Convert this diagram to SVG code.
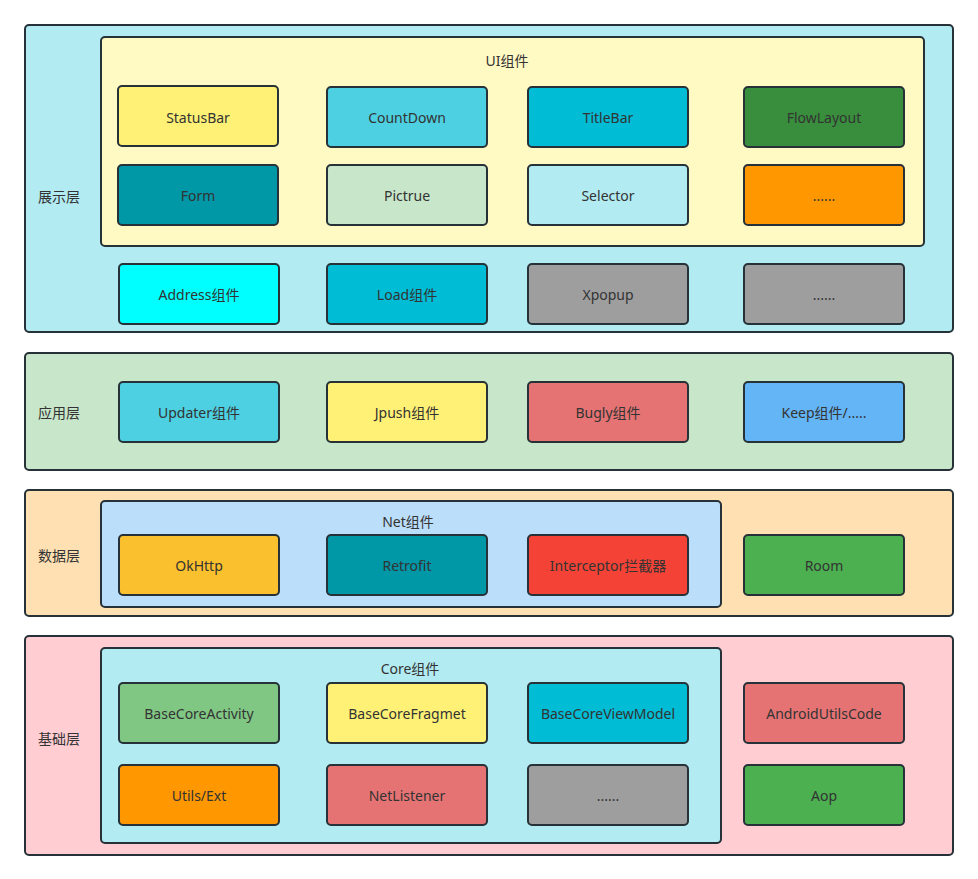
<svg xmlns="http://www.w3.org/2000/svg" width="978" height="879" viewBox="0 0 978 879">
<style>
.l,.b{stroke:#263238;stroke-width:2;rx:4px;ry:4px}
text{font-family:"Noto Sans","Noto Sans CJK SC",sans-serif;font-size:14px;fill:#333;text-anchor:middle;dominant-baseline:central}
</style>
<rect width="978" height="879" fill="#fff"/>
<g id="layer-display">
<rect class="l" x="25" y="25" width="928" height="307" fill="#b2ebf2"/>
<text x="59" y="196">展示层</text>
</g>
<g id="ui-group">
<rect class="l" x="101" y="37" width="823" height="209" fill="#fff9c4"/>
<text x="507" y="60">UI组件</text>
</g>
<g id="statusbar"><rect class="b" x="118" y="86" width="160" height="60" fill="#fff176"/><text x="198" y="117">StatusBar</text></g>
<g id="countdown"><rect class="b" x="327" y="87" width="160" height="60" fill="#4dd0e1"/><text x="407" y="117">CountDown</text></g>
<g id="titlebar"><rect class="b" x="528" y="87" width="160" height="60" fill="#00bcd4"/><text x="608" y="117">TitleBar</text></g>
<g id="flowlayout"><rect class="b" x="744" y="87" width="160" height="60" fill="#388e3c"/><text x="824" y="117">FlowLayout</text></g>
<g id="form"><rect class="b" x="118" y="165" width="160" height="60" fill="#0097a7"/><text x="198" y="195">Form</text></g>
<g id="pictrue"><rect class="b" x="327" y="165" width="160" height="60" fill="#c8e6c9"/><text x="407" y="195">Pictrue</text></g>
<g id="selector"><rect class="b" x="528" y="165" width="160" height="60" fill="#b2ebf2"/><text x="608" y="195">Selector</text></g>
<g id="ui-more"><rect class="b" x="744" y="165" width="160" height="60" fill="#ff9800"/><text x="824" y="195">......</text></g>
<g id="address"><rect class="b" x="119" y="264" width="160" height="60" fill="#00ffff"/><text x="199" y="294">Address组件</text></g>
<g id="load"><rect class="b" x="327" y="264" width="160" height="60" fill="#00bcd4"/><text x="407" y="294">Load组件</text></g>
<g id="xpopup"><rect class="b" x="528" y="264" width="160" height="60" fill="#9e9e9e"/><text x="608" y="294">Xpopup</text></g>
<g id="display-more"><rect class="b" x="744" y="264" width="160" height="60" fill="#9e9e9e"/><text x="824" y="294">......</text></g>

<g id="layer-app">
<rect class="l" x="25" y="353" width="928" height="117" fill="#c8e6c9"/>
<text x="59" y="412">应用层</text>
</g>
<g id="updater"><rect class="b" x="119" y="382" width="160" height="60" fill="#4dd0e1"/><text x="199" y="412">Updater组件</text></g>
<g id="jpush"><rect class="b" x="327" y="382" width="160" height="60" fill="#fff176"/><text x="407" y="412">Jpush组件</text></g>
<g id="bugly"><rect class="b" x="528" y="382" width="160" height="60" fill="#e57373"/><text x="608" y="412">Bugly组件</text></g>
<g id="keep"><rect class="b" x="744" y="382" width="160" height="60" fill="#64b5f6"/><text x="824" y="412">Keep组件/.....</text></g>

<g id="layer-data">
<rect class="l" x="25" y="490" width="928" height="126" fill="#ffe0b2"/>
<text x="59" y="555">数据层</text>
</g>
<g id="net-group">
<rect class="l" x="101" y="501" width="620" height="106" fill="#bbdefb"/>
<text x="408" y="521">Net组件</text>
</g>
<g id="okhttp"><rect class="b" x="119" y="535" width="160" height="60" fill="#fbc02d"/><text x="199" y="565">OkHttp</text></g>
<g id="retrofit"><rect class="b" x="327" y="535" width="160" height="60" fill="#0097a7"/><text x="407" y="565">Retrofit</text></g>
<g id="interceptor"><rect class="b" x="528" y="535" width="160" height="60" fill="#f44336"/><text x="608" y="565">Interceptor拦截器</text></g>
<g id="room"><rect class="b" x="744" y="535" width="160" height="60" fill="#4caf50"/><text x="824" y="565">Room</text></g>

<g id="layer-base">
<rect class="l" x="25" y="636" width="928" height="219" fill="#ffcdd2"/>
<text x="59" y="738">基础层</text>
</g>
<g id="core-group">
<rect class="l" x="101" y="648" width="620" height="195" fill="#b2ebf2"/>
<text x="410" y="668">Core组件</text>
</g>
<g id="basecoreactivity"><rect class="b" x="119" y="683" width="160" height="60" fill="#81c784"/><text x="199" y="713">BaseCoreActivity</text></g>
<g id="basecorefragmet"><rect class="b" x="327" y="683" width="160" height="60" fill="#fff176"/><text x="407" y="713">BaseCoreFragmet</text></g>
<g id="basecoreviewmodel"><rect class="b" x="528" y="683" width="160" height="60" fill="#00bcd4"/><text x="608" y="713">BaseCoreViewModel</text></g>
<g id="androidutilscode"><rect class="b" x="744" y="683" width="160" height="60" fill="#e57373"/><text x="824" y="713">AndroidUtilsCode</text></g>
<g id="utils-ext"><rect class="b" x="119" y="765" width="160" height="60" fill="#ff9800"/><text x="199" y="795">Utils/Ext</text></g>
<g id="netlistener"><rect class="b" x="327" y="765" width="160" height="60" fill="#e57373"/><text x="407" y="795">NetListener</text></g>
<g id="core-more"><rect class="b" x="528" y="765" width="160" height="60" fill="#9e9e9e"/><text x="608" y="795">......</text></g>
<g id="aop"><rect class="b" x="744" y="765" width="160" height="60" fill="#4caf50"/><text x="824" y="795">Aop</text></g>
<g id="connectors"></g>
</svg>
